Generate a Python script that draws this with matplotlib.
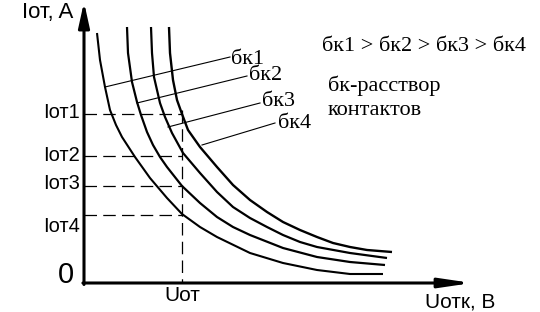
import matplotlib
matplotlib.use("Agg")
import matplotlib.pyplot as plt

# ---- data (in picture pixel units) ----
curve_names = ["бк1", "бк2", "бк3", "бк4"]

c1_x = [97, 100, 105, 110, 116, 122, 135, 150, 167, 182, 200, 217, 250, 283, 317, 350, 383]
c1_y = [33, 60, 87, 110, 125, 137, 157, 178, 198, 214, 227, 237, 253, 263, 270, 274, 274]

c2_x = [127, 128, 132, 137, 141, 147, 153, 160, 167, 182, 200, 217, 233, 250, 283, 317, 350, 385]
c2_y = [27, 53, 82, 102, 115, 132, 145, 157, 167, 186, 203, 217, 227, 235, 248, 257, 262, 265]

c3_x = [151, 152, 154, 160, 165, 172, 183, 200, 217, 233, 250, 267, 283, 300, 317, 350, 387]
c3_y = [27, 53, 77, 103, 117, 133, 153, 173, 192, 207, 218, 227, 235, 242, 247, 253, 258]

c4_x = [169, 170, 173, 177, 182, 188, 200, 217, 233, 250, 267, 283, 300, 317, 333, 350, 367, 392]
c4_y = [27, 53, 80, 100, 114, 130, 147, 167, 185, 200, 212, 222, 230, 237, 243, 247, 250, 252]

# leader lines: point on curve -> label end
leader_start_x = [105, 137, 168, 202]
leader_start_y = [87, 103, 127, 145]
leader_end_x = [230, 247, 260, 275]
leader_end_y = [57, 76, 103, 123]
label_x = [231, 249, 262, 278]
label_y = [64, 80, 106, 128]

# current levels (y) and the Uот position (x)
level_labels = ["Iот1", "Iот2", "Iот3", "Iот4"]
level_y = [114, 156, 186, 215]
level_text_y = [118, 161, 189, 232]
u_ot_x = 182

# ---- figure ----
fig = plt.figure(figsize=(5.4, 3.12), dpi=100)
ax = fig.add_axes([0, 0, 1, 1])
ax.set_xlim(0, 540)
ax.set_ylim(312, 0)
ax.axis("off")

sans = ["Liberation Sans", "DejaVu Sans"]
serif = ["Liberation Serif", "DejaVu Serif"]

# axes with arrows
ax.annotate("", xy=(84, 2), xytext=(84, 284.5),
            arrowprops=dict(arrowstyle="-|>,head_length=1.5,head_width=0.33",
                            mutation_scale=10, lw=2.2, color="black",
                            shrinkA=0, shrinkB=0))
ax.annotate("", xy=(472, 283), xytext=(82.9, 283),
            arrowprops=dict(arrowstyle="-|>,head_length=1.9,head_width=0.28",
                            mutation_scale=10, lw=2.2, color="black",
                            shrinkA=0, shrinkB=0))

# curves
for xs, ys, lw in [(c1_x, c1_y, 1.5), (c2_x, c2_y, 1.6), (c3_x, c3_y, 1.6), (c4_x, c4_y, 1.7)]:
    ax.plot(xs, ys, color="black", lw=lw, solid_joinstyle="round", solid_capstyle="butt")

# dashed guides
for y in level_y:
    ax.plot([84, u_ot_x], [y, y], color="black", lw=0.9, dashes=(10, 5))
ax.plot([u_ot_x, u_ot_x], [110, 283], color="black", lw=0.9, dashes=(10, 5))

# leader lines and curve labels
for i in range(4):
    ax.plot([leader_start_x[i], leader_end_x[i]], [leader_start_y[i], leader_end_y[i]],
            color="black", lw=0.8)
    ax.text(label_x[i], label_y[i], curve_names[i], family=serif, fontsize=16,
            ha="left", va="baseline")

# level labels
for lab, ty in zip(level_labels, level_text_y):
    ax.text(80, ty, lab, family=sans, fontsize=14.5, ha="right", va="baseline")

ax.text(73, 18, "Iот, A", family=sans, fontsize=16, ha="right", va="baseline")
ax.text(74, 283, "0", family=sans, fontsize=21, ha="right", va="baseline")
ax.text(u_ot_x, 301, "Uот", family=sans, fontsize=15, ha="center", va="baseline")
ax.text(425, 307, "Uотк, В", family=sans, fontsize=15, ha="left", va="baseline")

ax.text(322, 51, "бк1 > бк2 > бк3 > бк4", family=serif, fontsize=16, ha="left", va="baseline")
ax.text(328, 91, "бк-расствор", family=serif, fontsize=16, ha="left", va="baseline")
ax.text(328, 115, "контактов", family=serif, fontsize=16, ha="left", va="baseline")

fig.savefig("out.png", dpi=100)
